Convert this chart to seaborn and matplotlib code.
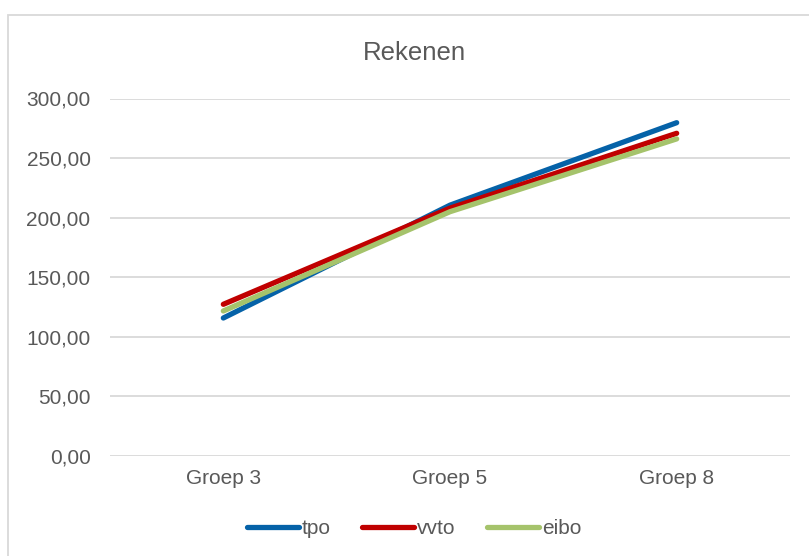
import matplotlib
matplotlib.use("Agg")
from matplotlib import pyplot as plt
from matplotlib.patches import Rectangle
from matplotlib.ticker import FuncFormatter, MultipleLocator
import seaborn as sns
import pandas as pd

groups = ["Groep 3", "Groep 5", "Groep 8"]
tpo = [115.8, 210.5, 279.7]
vvto = [127.3, 208.0, 270.8]
eibo = [121.7, 205.0, 266.1]

series = ["tpo", "vvto", "eibo"]
colors = ["#0562A8", "#C00000", "#A5C36B"]

df = pd.DataFrame({
    "Groep": groups * 3,
    "Score": tpo + vvto + eibo,
    "Type": ["tpo"] * 3 + ["vvto"] * 3 + ["eibo"] * 3,
})

sns.set_style("white")
plt.rcParams["font.family"] = ["Liberation Sans", "DejaVu Sans"]
grey = "#595959"

fig = plt.figure(figsize=(8.09, 5.56), dpi=100)
ax = fig.add_axes([110 / 809, 1 - 456 / 556, 680 / 809, 357.5 / 556])

sns.lineplot(
    data=df,
    x="Groep",
    y="Score",
    hue="Type",
    hue_order=series,
    palette=colors,
    sort=False,
    linewidth=3.8,
    solid_capstyle="round",
    legend=False,
    ax=ax,
)

ax.set_xlim(-0.5, 2.5)
ax.set_ylim(0, 300)
ax.yaxis.set_major_locator(MultipleLocator(50))
ax.yaxis.set_major_formatter(FuncFormatter(lambda v, p: f"{v:.2f}".replace(".", ",")))
ax.grid(axis="y", color="#D9D9D9", linewidth=1.3)
ax.set_axisbelow(True)
for s in ax.spines.values():
    s.set_visible(False)
ax.tick_params(axis="y", length=0, pad=14, labelsize=15, labelcolor=grey)
ax.tick_params(axis="x", length=0, pad=9, labelsize=15, labelcolor=grey)
ax.set_xlabel("")
ax.set_ylabel("")

fig.text(414 / 809, 1 - 53 / 556, "Rekenen", ha="center", va="center",
         fontsize=18.5, color=grey)

handles = ax.lines[:3]
leg = fig.legend(
    handles, series,
    loc="center", bbox_to_anchor=(414 / 809, 1 - 529 / 556),
    ncol=3, frameon=False, fontsize=15, handlelength=2.5,
    handletextpad=0.15, columnspacing=1.5, labelcolor=grey,
)

# chart border (cropped on the right and bottom)
fig.patches.append(Rectangle((8 / 809, -0.1), 1.2, 1.1 - 15 / 556,
                             transform=fig.transFigure, fill=False,
                             edgecolor="#D9D9D9", linewidth=1.3))

fig.savefig("out.png", dpi=100)
